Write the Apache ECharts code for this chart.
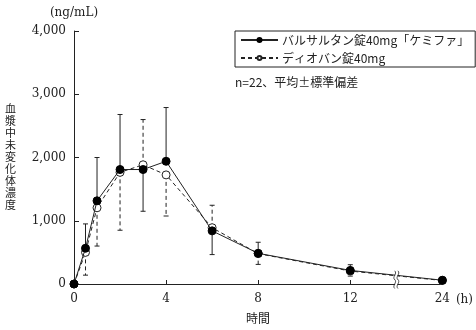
<!DOCTYPE html>
<html>
<head>
<meta charset="utf-8">
<script src="https://cdn.jsdelivr.net/npm/echarts@6/dist/echarts.min.js"></script>
<style>
  html, body { margin: 0; padding: 0; background: #fff; }
  #chart { width: 476px; height: 330px; }
</style>
</head>
<body>
<div id="chart"></div>
<script>
// Sampling times (h) after dosing
const timesH = [0, 0.5, 1, 2, 3, 4, 6, 8, 12, 24];
// バルサルタン錠40mg「ケミファ」: mean and SD (ng/mL)
const genericMean = [0, 565, 1315, 1810, 1810, 1940, 840, 485, 215, 60];
const genericSD   = [0, 385, 685, 870, 660, 850, 375, 175, 90, 0];
// ディオバン錠40mg: mean and SD (ng/mL)
const brandMean = [0, 500, 1205, 1765, 1885, 1725, 890, 480, 205, 55];
const brandSD   = [0, 360, 605, 915, 715, 650, 355, 170, 80, 0];

const seriesNames = ['バルサルタン錠40mg「ケミファ」', 'ディオバン錠40mg'];
const xTickHours = [0, 4, 8, 12, 24];
const yTicks = [0, 1000, 2000, 3000, 4000];

// The time axis is broken between 14 h and 24 h: hours past the break are compressed
const BREAK_AT = 14;
const BREAK_SCALE = 0.2;
const toAxis = h => h <= BREAK_AT ? h : BREAK_AT + (h - BREAK_AT) * BREAK_SCALE;
const fromAxis = v => v <= BREAK_AT ? v : BREAK_AT + (v - BREAK_AT) / BREAK_SCALE;

const INK = '#222';
const NUM_FONT = 'DejaVu Serif';
const JP_FONT = '"Noto Sans CJK JP"';

const genericPts = timesH.map((h, i) => [toAxis(h), genericMean[i]]);
const brandPts = timesH.map((h, i) => [toAxis(h), brandMean[i]]);

// Each series shows one half of its error bar: the higher mean points up, the lower down
function barData(mean, sd, other, preferUp) {
  return timesH.map((h, i) => {
    const up = mean[i] > other[i] || (mean[i] === other[i] && preferUp);
    return [toAxis(h), mean[i], up ? mean[i] + sd[i] : mean[i] - sd[i], sd[i]];
  });
}
const genericBars = barData(genericMean, genericSD, brandMean, true);
const brandBars = barData(brandMean, brandSD, genericMean, false);

function errorBarSeries(data, dashed) {
  return {
    type: 'custom',
    silent: true,
    z: 1,
    data: data,
    renderItem: function (params, api) {
      if (api.value(3) <= 0) return null;
      const p0 = api.coord([api.value(0), api.value(1)]);
      const p1 = api.coord([api.value(0), api.value(2)]);
      const style = { stroke: INK, lineWidth: 1, lineDash: dashed ? [4, 3] : null };
      return {
        type: 'group',
        children: [
          { type: 'line', shape: { x1: p0[0], y1: p0[1], x2: p1[0], y2: p1[1] }, style: style },
          { type: 'line', shape: { x1: p1[0] - 2.5, y1: p1[1], x2: p1[0] + 2.5, y2: p1[1] },
            style: { stroke: INK, lineWidth: 1 } }
        ]
      };
    }
  };
}

// Break marks on the time axis and on the curve where it crosses the break
function valueAtAxis(pts, x) {
  for (let i = 1; i < pts.length; i++) {
    if (pts[i][0] >= x) {
      const a = pts[i - 1], b = pts[i];
      return a[1] + (b[1] - a[1]) * (x - a[0]) / (b[0] - a[0]);
    }
  }
  return pts[pts.length - 1][1];
}
const breakMarks = [[BREAK_AT, 0], [BREAK_AT, valueAtAxis(genericPts, BREAK_AT)]];

const chart = echarts.init(document.getElementById('chart'), null, { renderer: 'canvas' });
chart.setOption({
  animation: false,
  backgroundColor: '#fff',
  grid: { left: 74, right: 33, top: 31, bottom: 46, containLabel: false },
  legend: {
    orient: 'vertical',
    left: 235,
    top: 31,
    padding: [3, 6, 3, 5],
    itemGap: 6,
    itemWidth: 37,
    itemHeight: 5,
    borderColor: INK,
    borderWidth: 1,
    selectedMode: false,
    data: seriesNames,
    textStyle: { fontFamily: JP_FONT, fontSize: 12, color: INK, padding: [0, 0, 0, -1] }
  },
  xAxis: {
    type: 'value',
    min: 0,
    max: toAxis(24),
    interval: 4,
    splitLine: { show: false },
    axisLine: { lineStyle: { color: INK, width: 1 } },
    axisTick: { inside: true, length: 4, lineStyle: { color: INK } },
    axisLabel: {
      color: INK, fontFamily: NUM_FONT, fontSize: 12, margin: 9,
      formatter: v => {
        const h = Math.round(fromAxis(v));
        return xTickHours.indexOf(h) >= 0 ? String(h) : '';
      }
    },
    name: '(h)',
    nameLocation: 'end',
    nameGap: 8,
    nameTextStyle: { color: INK, fontFamily: NUM_FONT, fontSize: 12, verticalAlign: 'top', padding: [10, 0, 0, 0] }
  },
  yAxis: {
    type: 'value',
    min: yTicks[0],
    max: yTicks[yTicks.length - 1],
    interval: yTicks[1] - yTicks[0],
    splitLine: { show: false },
    axisLine: { show: true, lineStyle: { color: INK, width: 1 } },
    axisTick: { show: true, inside: true, length: 5, lineStyle: { color: INK } },
    axisLabel: {
      color: INK, fontFamily: NUM_FONT, fontSize: 12, margin: 8,
      formatter: v => v.toLocaleString('en-US')
    },
    name: '(ng/mL)',
    nameLocation: 'end',
    nameGap: 12,
    nameTextStyle: { color: INK, fontFamily: NUM_FONT, fontSize: 12, align: 'center' }
  },
  graphic: [
    {
      type: 'text', left: 5, top: 103,
      style: {
        text: '血\n漿\n中\n未\n変\n化\n体\n濃\n度',
        fontFamily: 'Noto Sans CJK JP', fontSize: 11, lineHeight: 12, fill: INK
      }
    },
    {
      type: 'text', left: 246, top: 312,
      style: { text: '時間', fontFamily: 'Noto Sans CJK JP', fontSize: 12, fill: INK }
    },
    {
      type: 'text', left: 235, top: 76,
      style: { text: 'n=22、平均±標準偏差', fontFamily: 'Noto Sans CJK JP', fontSize: 12, fill: INK }
    }
  ],
  series: [
    errorBarSeries(brandBars, true),
    errorBarSeries(genericBars, false),
    {
      name: seriesNames[1],
      type: 'line',
      z: 3,
      data: brandPts,
      symbol: 'circle',
      symbolSize: 8,
      lineStyle: { color: INK, width: 1, type: [4, 3] },
      itemStyle: { color: '#fff', borderColor: INK, borderWidth: 1 }
    },
    {
      name: seriesNames[0],
      type: 'line',
      z: 4,
      data: genericPts,
      symbol: 'circle',
      symbolSize: 8,
      lineStyle: { color: INK, width: 1 },
      itemStyle: { color: '#000', borderColor: '#000', borderWidth: 1 }
    },
    {
      type: 'custom',
      silent: true,
      z: 5,
      data: breakMarks,
      renderItem: function (params, api) {
        const p = api.coord([api.value(0), api.value(1)]);
        const wave = dx => ({
          type: 'bezierCurve',
          shape: { x1: p[0] + dx, y1: p[1] - 4.5, x2: p[0] + dx, y2: p[1] + 4.5,
                   cpx1: p[0] + dx + 3, cpy1: p[1] - 1.5, cpx2: p[0] + dx - 3, cpy2: p[1] + 1.5 },
          style: { stroke: INK, lineWidth: 0.8, fill: null }
        });
        return {
          type: 'group',
          children: [
            { type: 'rect', shape: { x: p[0] - 1.2, y: p[1] - 3, width: 2.4, height: 6 },
              style: { fill: '#fff' } },
            wave(-1.6),
            wave(1.6)
          ]
        };
      }
    }
  ]
});
</script>
</body>
</html>
